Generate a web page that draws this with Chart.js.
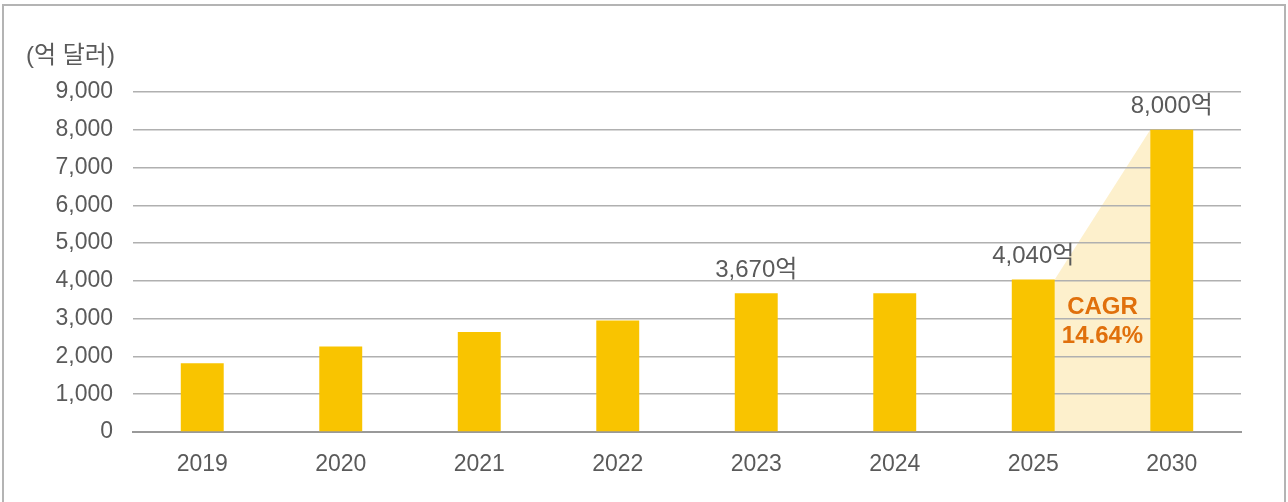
<!DOCTYPE html>
<html>
<head>
<meta charset="utf-8">
<script src="https://cdn.jsdelivr.net/npm/chart.js@4"></script>
<style>
  html, body { margin: 0; padding: 0; background: #fff; overflow: hidden; }
  #wrap { position: relative; width: 1288px; height: 502px; }
  #frame {
    position: absolute; left: 2px; top: 4px; width: 1284px; height: 600px;
    border: 2px solid #b4b4b4; box-sizing: border-box; pointer-events: none;
  }
  canvas { position: absolute; left: 0; top: 0; }
</style>
</head>
<body>
<div id="wrap">
  <canvas id="chart" width="1288" height="502"></canvas>
  <div id="frame"></div>
</div>
<script>
// Daten
const years = ['2019', '2020', '2021', '2022', '2023', '2024', '2025', '2030'];
const marketSize = [1820, 2260, 2650, 2950, 3670, 3670, 4040, 8000];
const labelledBars = [4, 6, 7];       // Balken mit Wertbeschriftung
const unitTitle = '(억 달러)';
const cagrText = ['CAGR', '14.64%'];
const cagrFrom = 6, cagrTo = 7;       // Bereich der CAGR-Fläche

const FONT = "'Liberation Sans', 'Noto Sans CJK KR', sans-serif";
const TEXT_GRAY = '#5a5a5a';

// Fläche zwischen 2025 und 2030 + Einheit oben links
const backdrop = {
  id: 'backdrop',
  beforeDraw(chart) {
    const ctx = chart.ctx;
    const meta = chart.getDatasetMeta(0);
    const a = meta.data[cagrFrom], b = meta.data[cagrTo];
    const base = chart.scales.y.getPixelForValue(0);
    const ax = a.x + a.width / 2, bx = b.x - b.width / 2;
    ctx.save();
    ctx.fillStyle = '#fdf0cc';
    ctx.beginPath();
    ctx.moveTo(ax, a.y);
    ctx.lineTo(bx, b.y);
    ctx.lineTo(bx, base);
    ctx.lineTo(ax, base);
    ctx.closePath();
    ctx.fill();
    ctx.restore();
  },
  afterDraw(chart) {
    const ctx = chart.ctx;
    const meta = chart.getDatasetMeta(0);
    const y = chart.scales.y;
    ctx.save();
    // Einheit
    ctx.font = '24px ' + FONT;
    ctx.fillStyle = TEXT_GRAY;
    ctx.textAlign = 'left';
    ctx.textBaseline = 'middle';
    ctx.fillText(unitTitle, 26, chart.chartArea.top - 36);

    // Wertbeschriftungen
    ctx.textAlign = 'center';
    labelledBars.forEach(i => {
      const bar = meta.data[i];
      ctx.fillText(marketSize[i].toLocaleString('en-US') + '억', bar.x, bar.y - 23);
    });

    // CAGR
    const a = meta.data[cagrFrom], b = meta.data[cagrTo];
    const cx = ((a.x + a.width / 2) + (b.x - b.width / 2)) / 2;
    ctx.font = 'bold 24px ' + FONT;
    ctx.fillStyle = '#e0700c';
    ctx.fillText(cagrText[0], cx, y.getPixelForValue(3300));
    ctx.fillText(cagrText[1], cx, y.getPixelForValue(2540));
    ctx.restore();
  }
};

const ctx = document.getElementById('chart').getContext('2d');
const chart = new Chart(ctx, {
  type: 'bar',
  data: {
    labels: years,
    datasets: [{
      data: marketSize,
      backgroundColor: '#f9c400',
      categoryPercentage: 1,
      barPercentage: 0.31
    }]
  },
  options: {
    responsive: false,
    animation: false,
    layout: { padding: { top: 92, right: 47, left: 0, bottom: 0 } },
    plugins: {
      legend: { display: false },
      tooltip: { enabled: false }
    },
    scales: {
      x: {
        grid: { display: false, drawTicks: false },
        border: { color: '#999', width: 2 },
        ticks: { color: TEXT_GRAY, font: { family: FONT, size: 23 }, padding: 19 },
        afterFit(scale) { scale.height = 70; }
      },
      y: {
        min: 0,
        max: 9000,
        grid: { color: '#b0b0b0', lineWidth: 1.5, drawTicks: false },
        border: { display: false },
        ticks: {
          stepSize: 1000,
          color: TEXT_GRAY,
          font: { family: FONT, size: 23 },
          padding: 20,
          callback: v => v.toLocaleString('en-US')
        },
        afterFit(scale) { scale.width = 133; }
      }
    }
  },
  plugins: [backdrop]
});
</script>
</body>
</html>
